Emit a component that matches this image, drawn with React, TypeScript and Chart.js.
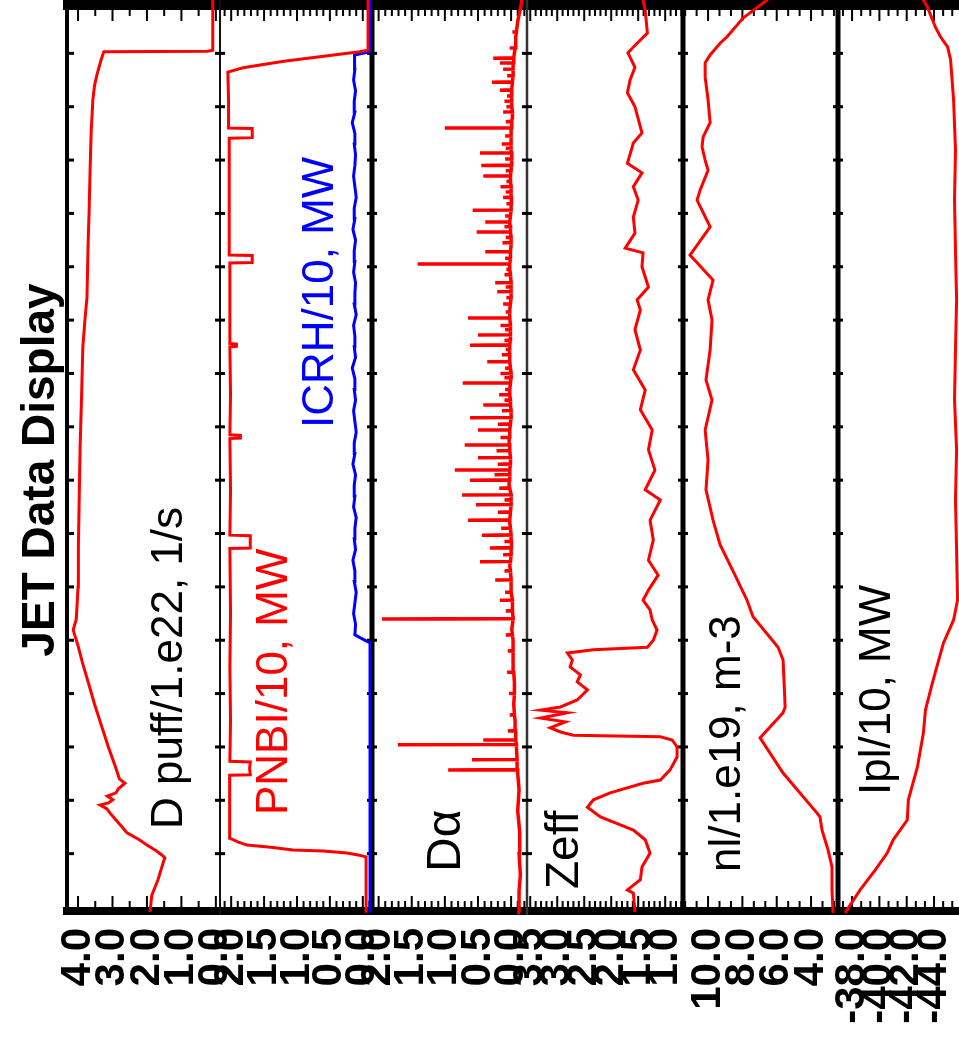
import React, { useEffect, useRef } from 'react';
import { Chart, registerables } from 'chart.js';

Chart.register(...registerables);

type Pt = [number, number];

// time axis (arbitrary units, 1 unit per tick)
const TIME_MIN = 0;
const TIME_MAX = 17;

// D puff / 1.e22, 1/s   [time, value]
const dPuff: Pt[] = [
  [-0.09, 1.91], [0.22, 1.86], [0.51, 1.68], [0.85, 1.52], [0.92, 1.48], [0.97, 1.56], [1.05, 1.72],
  [1.16, 2.0], [1.26, 2.22], [1.39, 2.58], [1.5, 2.72], [1.63, 2.9], [1.76, 3.07], [1.84, 3.16],
  [1.91, 3.36], [1.95, 3.12], [2.01, 2.99], [2.08, 3.15], [2.14, 2.9], [2.22, 2.82], [2.32, 2.64],
  [2.4, 2.8], [2.6, 2.9], [3.0, 3.12], [3.4, 3.32], [3.8, 3.52], [4.2, 3.7], [4.6, 3.88], [4.9, 4.0],
  [5.19, 4.14], [5.4, 4.05], [6.0, 4.0], [6.75, 3.99], [7.5, 3.97], [8.62, 3.94], [9.5, 3.9],
  [10.5, 3.86], [11.0, 3.8], [11.43, 3.74], [12.37, 3.71], [13.0, 3.68], [13.81, 3.65], [14.5, 3.62],
  [15.13, 3.57], [15.4, 3.52], [15.6, 3.45], [15.88, 3.33], [16.03, 3.25], [16.04, 0.25], [16.06, 0.09],
  [17.1, 0.09],
];

// PNBI / 10, MW
const pnbi: Pt[] = [
  [-0.11, -0.05], [0.5, -0.05], [0.94, -0.05], [0.97, 0.05], [1.01, 0.24], [1.05, 0.6], [1.07, 1.06],
  [1.12, 1.4], [1.16, 1.76], [1.22, 1.9], [1.29, 2.02], [1.8, 2.02], [2.2, 2.03], [2.47, 2.02],
  [2.48, 1.71], [2.6, 1.72], [2.72, 1.71], [2.73, 2.02], [3.5, 2.01], [4.5, 2.02], [5.5, 2.01],
  [6.72, 2.02], [6.73, 1.71], [6.96, 1.71], [6.97, 2.02], [7.8, 2.01], [8.78, 2.02], [8.79, 1.86],
  [8.84, 1.86], [8.85, 2.02], [9.6, 2.01], [10.5, 2.02], [10.51, 1.92], [10.55, 1.92], [10.56, 2.02],
  [11.5, 2.02], [12.07, 2.02], [12.08, 1.68], [12.21, 1.68], [12.22, 2.03], [13.0, 2.03], [13.8, 2.03],
  [14.41, 2.03], [14.42, 1.68], [14.59, 1.68], [14.6, 2.04], [15.1, 2.04], [15.65, 2.05], [15.73, 1.82],
  [15.85, 1.2], [16.03, 0.05], [16.06, -0.08], [17.1, -0.08],
];

// ICRH / 10, MW
const icrh: Pt[] = [
  [-0.11, -0.11], [4.95, -0.11], [5.02, 0.0], [5.1, 0.12], [5.3, 0.11], [5.5, 0.14], [5.7, 0.12],
  [5.9, 0.1], [6.1, 0.13], [6.3, 0.12], [6.5, 0.15], [6.7, 0.11], [6.9, 0.13], [7.1, 0.12], [7.3, 0.1],
  [7.5, 0.14], [7.7, 0.12], [7.9, 0.13], [8.1, 0.11], [8.3, 0.15], [8.5, 0.12], [8.7, 0.13], [8.9, 0.1],
  [9.1, 0.12], [9.3, 0.14], [9.5, 0.11], [9.7, 0.13], [9.9, 0.12], [10.1, 0.16], [10.3, 0.11],
  [10.5, 0.13], [10.7, 0.12], [10.9, 0.14], [11.1, 0.1], [11.3, 0.13], [11.5, 0.12], [11.7, 0.11],
  [11.9, 0.14], [12.1, 0.12], [12.3, 0.13], [12.5, 0.11], [12.7, 0.15], [12.9, 0.12], [13.1, 0.13],
  [13.3, 0.1], [13.5, 0.12], [13.7, 0.14], [13.9, 0.12], [14.1, 0.11], [14.3, 0.13], [14.5, 0.12],
  [14.7, 0.16], [14.9, 0.12], [15.1, 0.13], [15.3, 0.11], [15.5, 0.14], [15.7, 0.12], [15.9, 0.13],
  [15.97, 0.12], [16.03, -0.11], [17.1, -0.11],
];

// D-alpha baseline [time, value]
const dAlphaBase: Pt[] = [
  [-0.11, -0.13], [0.3, -0.12], [0.6, -0.14], [1.0, -0.12], [1.4, -0.13], [1.8, -0.1], [2.2, -0.12],
  [2.5, -0.1], [3.0, -0.08], [3.5, -0.06], [3.8, -0.04], [4.2, -0.05], [4.6, -0.03], [5.0, -0.03],
  [5.2, -0.01], [5.6, -0.02], [6.0, 0.0], [6.4, 0.02], [6.8, -0.01], [7.2, 0.02], [7.6, 0.0],
  [8.0, 0.03], [8.4, 0.01], [8.8, 0.03], [9.2, 0.0], [9.6, 0.02], [10.0, 0.0], [10.4, 0.03],
  [10.8, 0.01], [11.2, 0.02], [11.6, 0.0], [12.0, 0.02], [12.4, 0.0], [12.8, 0.02], [13.2, -0.01],
  [13.6, 0.01], [14.0, -0.01], [14.4, 0.0], [14.8, -0.02], [15.2, -0.01], [15.6, -0.03], [16.0, -0.05],
  [16.3, -0.07], [16.6, -0.1], [16.9, -0.15], [17.09, -0.17],
];
// D-alpha spikes [time, base, peak]
const dAlphaSpikes: [number, number, number][] = [
  [2.57, -0.1, 0.95], [2.76, -0.09, 0.59], [3.04, -0.08, 1.71], [3.13, -0.07, 0.42], [3.3, -0.07, 0.05],
  [3.6, -0.05, 0.02], [4.0, -0.05, 0.03], [4.4, -0.04, 0.06], [4.8, -0.03, 0.05], [5.1, -0.02, 0.08],
  [5.4, -0.03, 1.95], [5.55, -0.02, 0.08], [5.75, -0.02, 0.17], [5.9, 0.0, 0.09], [6.13, 0.0, 0.24],
  [6.3, 0.01, 0.1], [6.47, 0.01, 0.47], [6.6, 0.0, 0.12], [6.73, 0.0, 0.32], [6.85, 0.0, 0.1],
  [6.97, 0.0, 0.44], [7.1, 0.01, 0.15], [7.25, 0.02, 0.65], [7.4, 0.01, 0.2], [7.54, 0.0, 0.53],
  [7.63, 0.0, 0.1], [7.72, 0.0, 0.74], [7.85, 0.02, 0.18], [8.0, 0.03, 0.62], [8.1, 0.02, 0.25],
  [8.19, 0.02, 0.85], [8.3, 0.01, 0.2], [8.42, 0.01, 0.5], [8.55, 0.02, 0.22], [8.66, 0.02, 0.7],
  [8.8, 0.03, 0.16], [8.94, 0.02, 0.5], [9.05, 0.01, 0.2], [9.17, 0.0, 0.62], [9.3, 0.0, 0.14],
  [9.41, 0.01, 0.42], [9.5, 0.01, 0.1], [9.6, 0.02, 0.18], [9.7, 0.02, 0.09], [9.82, 0.01, 0.73],
  [9.92, 0.0, 0.1], [10.0, 0.0, 0.16], [10.1, 0.01, 0.09], [10.22, 0.02, 0.36], [10.35, 0.02, 0.14],
  [10.45, 0.02, 0.08], [10.53, 0.02, 0.62], [10.62, 0.01, 0.1], [10.72, 0.01, 0.5], [10.82, 0.01, 0.09],
  [10.9, 0.01, 0.16], [11.04, 0.02, 0.65], [11.15, 0.02, 0.08], [11.3, 0.01, 0.12], [11.42, 0.0, 0.07],
  [11.53, 0.0, 0.21], [11.62, 0.0, 0.08], [11.7, 0.0, 0.24], [11.85, 0.01, 0.1], [11.95, 0.02, 0.07],
  [12.05, 0.02, 1.41], [12.16, 0.01, 0.09], [12.28, 0.01, 0.39], [12.45, 0.0, 0.13], [12.55, 0.0, 0.08],
  [12.65, 0.01, 0.52], [12.75, 0.01, 0.1], [12.84, 0.02, 0.39], [12.95, 0.01, 0.09], [13.06, 0.0, 0.58],
  [13.18, 0.0, 0.07], [13.3, 0.0, 0.12], [13.4, 0.0, 0.08], [13.5, 0.0, 0.16], [13.6, 0.01, 0.07],
  [13.7, 0.01, 0.42], [13.8, 0.0, 0.08], [13.9, 0.0, 0.45], [14.02, -0.01, 0.09], [14.13, -0.01, 0.47],
  [14.22, 0.0, 0.08], [14.3, 0.0, 0.14], [14.45, 0.0, 0.09], [14.6, 0.0, 1.0], [14.72, -0.01, 0.08],
  [14.9, -0.02, 0.12], [15.0, -0.01, 0.07], [15.1, -0.01, 0.1], [15.2, -0.01, 0.06], [15.31, -0.01, 0.17],
  [15.46, -0.02, 0.29], [15.58, -0.03, 0.06], [15.7, -0.03, 0.12], [15.82, -0.03, 0.17], [15.91, -0.04, 0.27],
  [16.1, -0.06, 0.02], [16.4, -0.08, -0.02],
];

// Zeff
const zeff: Pt[] = [
  [-0.09, 1.56], [0.26, 1.59], [0.32, 1.7], [0.51, 1.46], [0.75, 1.43], [1.01, 1.28], [1.26, 1.37],
  [1.44, 1.59], [1.54, 1.83], [1.69, 2.2], [1.87, 2.44], [2.01, 2.33], [2.14, 2.02], [2.32, 1.41],
  [2.38, 1.09], [2.57, 0.91], [2.81, 0.78], [3.0, 0.78], [3.13, 0.87], [3.19, 1.09], [3.22, 2.7],
  [3.28, 2.94], [3.36, 3.13], [3.47, 2.85], [3.54, 3.31], [3.64, 2.81], [3.69, 3.31], [3.75, 2.94],
  [3.88, 2.63], [4.07, 2.44], [4.22, 2.63], [4.35, 2.57], [4.5, 2.76], [4.63, 2.72], [4.76, 2.81],
  [4.82, 2.33], [4.87, 1.33], [5.0, 1.22], [5.19, 1.15], [5.38, 1.24], [5.57, 1.28], [5.75, 1.41],
  [5.94, 1.31], [6.22, 1.13], [6.5, 1.31], [6.88, 1.22], [7.25, 1.28], [7.63, 1.09], [7.82, 1.37],
  [8.19, 1.19], [8.57, 1.31], [8.94, 1.24], [9.32, 1.46], [9.69, 1.37], [10.07, 1.59], [10.44, 1.46],
  [10.82, 1.56], [11.19, 1.46], [11.38, 1.52], [11.62, 1.31], [12.0, 1.43], [12.26, 1.41], [12.35, 1.74],
  [12.63, 1.56], [12.93, 1.59], [13.25, 1.5], [13.5, 1.59], [13.76, 1.43], [13.94, 1.7], [14.32, 1.59],
  [14.51, 1.43], [15.0, 1.56], [15.26, 1.7], [15.5, 1.65], [15.74, 1.56], [16.01, 1.69], [16.19, 1.52],
  [16.38, 1.33], [16.81, 1.37], [17.0, 1.41], [17.09, 1.41],
];

// nl / 1.e19, m-3
const nl: Pt[] = [
  [-0.11, 2.72], [0.32, 2.78], [0.75, 2.78], [1.07, 3.01], [1.44, 3.36], [1.69, 3.48], [1.76, 3.65],
  [2.51, 5.63], [3.17, 6.97], [3.64, 5.63], [3.75, 5.51], [4.2, 5.57], [4.63, 5.63], [4.87, 5.92],
  [5.44, 7.38], [5.75, 7.73], [6.22, 8.43], [6.79, 9.3], [7.25, 9.71], [7.82, 10.12], [8.38, 10.0],
  [8.94, 10.17], [9.5, 9.77], [9.88, 10.12], [10.44, 9.88], [11.0, 9.77], [11.38, 10.0], [11.75, 9.71],
  [12.22, 11.05], [12.75, 9.88], [13.25, 10.64], [13.44, 10.46], [13.81, 10.0], [14.0, 10.17],
  [14.25, 10.35], [14.43, 10.29], [14.7, 9.88], [15.13, 10.0], [15.56, 10.17], [15.82, 10.17],
  [15.97, 9.88], [16.19, 9.3], [16.31, 8.89], [16.66, 7.96], [17.0, 6.56], [17.09, 6.39],
];

// Ipl / 10, MW
const ipl: Pt[] = [
  [-0.11, -37.49], [0.32, -38.59], [0.69, -39.69], [1.01, -40.57], [1.26, -41.01], [1.63, -42.04],
  [2.01, -42.12], [2.62, -42.78], [3.26, -43.22], [3.69, -43.37], [4.2, -43.88], [4.95, -44.69],
  [5.38, -45.43], [5.75, -45.72], [6.69, -45.65], [7.63, -45.57], [8.57, -45.65], [9.5, -45.5],
  [10.44, -45.57], [11.38, -45.65], [12.31, -45.57], [13.25, -45.5], [14.19, -45.57], [15.13, -45.43],
  [15.88, -45.21], [16.12, -44.99], [16.31, -44.47], [16.49, -44.1], [16.87, -43.51], [17.0, -43.22],
  [17.09, -43.07],
];

// panel value axes (left to right in the picture)
const panelIds = ['p1', 'p2', 'p3', 'p4', 'p5', 'p6'];
const panelMin = [-0.12, -0.14, -0.24, 0.67, 2.43, -45.9];
const panelMax = [4.32, 2.17, 2.1, 3.56, 11.46, -36.97];
const panelStep = [1, 0.5, 0.5, 0.5, 2, 2];
const panelMinor = [0.5, 0.1, 0.1, 0.1, 2 / 3, 2 / 3];
const panelWeight = [153, 152, 155, 156, 155, 122];

const panelLabels = ['D puff/1.e22, 1/s', 'PNBI/10, MW', 'ICRH/10, MW', 'D\u03b1', 'Zeff', 'nl/1.e19, m-3', 'Ipl/10, MW'];
const panelLabelColors = ['#000', '#ff0000', '#0000ff', '#000', '#000', '#000', '#000'];
const titleText = 'JET Data Display';

const FONT = "'Liberation Sans', Arial, Helvetica, sans-serif";
// label placement: [baseline x, start y, font size]
const labelPlace: [number, number, number][] = [
  [182, 829, 44], [287, 815, 44], [333, 428, 44], [460, 872, 48], [578, 889, 46], [740, 872, 44], [890, 795, 44],
];
const sepWidths = [4, 2, 5, 2.5, 5, 5, 0];
const sepColors = ['#000', '#111', '#000', '#333', '#000', '#000', '#000'];

function toXY(pts: Pt[]) {
  return pts.map(([t, v]) => ({ x: v, y: t }));
}

function buildDAlpha() {
  const rows: { t: number; pts: Pt[] }[] = [];
  dAlphaBase.forEach(([t, v]) => rows.push({ t, pts: [[t, v]] }));
  dAlphaSpikes.forEach(([t, b, p]) => rows.push({ t, pts: [[t, b], [t, p], [t + 0.006, b]] }));
  rows.sort((a, b) => a.t - b.t);
  const out: Pt[] = [];
  rows.forEach((r) => r.pts.forEach((p) => out.push(p)));
  return out;
}

const framePlugin = {
  id: 'jetFrame',
  beforeDatasetsDraw(chart: any) {
    const ctx = chart.ctx as CanvasRenderingContext2D;
    const area = chart.chartArea;
    const yS = chart.scales.y;
    ctx.save();
    ctx.fillStyle = '#000';
    const L = area.left - 4;
    const R = chart.width;
    ctx.fillRect(L, area.bottom, R - L, 8);
    ctx.fillRect(L, area.top, R - L, 10);
    panelIds.forEach((id, i) => {
      const s = chart.scales[id];
      const minor = panelMinor[i];
      const major = panelStep[i];
      const k0 = Math.ceil(s.min / minor - 1e-6);
      const k1 = Math.floor(s.max / minor + 1e-6);
      for (let k = k0; k <= k1; k++) {
        const v = k * minor;
        const isMajor = Math.abs(v / major - Math.round(v / major)) < 1e-6;
        const px = s.getPixelForValue(v);
        const len = isMajor ? 11 : 6;
        ctx.fillRect(px - 1, area.bottom - len, 2, len);
        ctx.fillRect(px - 1, area.top + 10, 2, len);
      }
    });
    const xs = panelIds.map((id) => chart.scales[id].left).concat([area.right]);
    xs.forEach((x: number, j: number) => {
      const w = sepWidths[j];
      if (w <= 0) return;
      ctx.fillStyle = sepColors[j];
      ctx.fillRect(x - w / 2, area.top, w, area.bottom + 8 - area.top);
      ctx.fillStyle = '#000';
      for (let t = Math.ceil(yS.min) + 1; t < yS.max; t++) {
        const py = yS.getPixelForValue(t);
        if (j === 0) ctx.fillRect(x, py - 1.5, 7, 3);
        else ctx.fillRect(x - 5, py - 1.5, 10, 3);
      }
    });
    ctx.restore();
  },
  afterDatasetsDraw(chart: any) {
    const ctx = chart.ctx as CanvasRenderingContext2D;
    ctx.save();
    panelLabels.forEach((txt, i) => {
      const [x, y, size] = labelPlace[i];
      ctx.save();
      ctx.translate(x, y);
      ctx.rotate(-Math.PI / 2);
      ctx.font = `${size}px ${FONT}`;
      ctx.fillStyle = panelLabelColors[i];
      ctx.textAlign = 'left';
      ctx.textBaseline = 'alphabetic';
      ctx.fillText(txt, 0, 0);
      ctx.restore();
    });
    ctx.translate(54, 470);
    ctx.rotate(-Math.PI / 2);
    ctx.font = `bold 46px ${FONT}`;
    ctx.fillStyle = '#000';
    ctx.textAlign = 'center';
    ctx.textBaseline = 'alphabetic';
    ctx.fillText(titleText, 0, 0);
    ctx.restore();
  },
};

export default function App() {
  const ref = useRef<HTMLCanvasElement | null>(null);
  useEffect(() => {
    if (!ref.current) return;
    const scales: any = {
      y: { type: 'linear', min: TIME_MIN, max: TIME_MAX, display: false },
    };
    panelIds.forEach((id, i) => {
      scales[id] = {
        type: 'linear',
        position: 'bottom',
        stack: 'panels',
        stackWeight: panelWeight[i],
        reverse: true,
        min: panelMin[i],
        max: panelMax[i],
        grid: { display: false, drawTicks: false },
        border: { display: false },
        ticks: {
          stepSize: panelStep[i],
          includeBounds: false,
          autoSkip: false,
          minRotation: 90,
          maxRotation: 90,
          padding: 21,
          color: '#000',
          font: { family: FONT, size: 42, weight: 'bold' },
          callback: (v: any) => Number(v).toFixed(1),
        },
        afterFit: (s: any) => {
          s.height = 134;
        },
      };
    });
    const ds = (label: string, pts: Pt[], axis: string, color: string, width = 3) => ({
      label,
      data: toXY(pts),
      xAxisID: axis,
      yAxisID: 'y',
      borderColor: color,
      backgroundColor: color,
      borderWidth: width,
      pointRadius: 0,
      showLine: true,
      fill: false,
      tension: 0,
      clip: false,
    });
    const chart = new Chart(ref.current, {
      type: 'scatter',
      data: {
        datasets: [
          ds('D puff', dPuff, 'p1', '#ff0000'),
          ds('PNBI', pnbi, 'p2', '#ff0000'),
          ds('ICRH', icrh, 'p2', '#0000ff'),
          ds('Dalpha', buildDAlpha(), 'p3', '#ff0000', 3.5),
          ds('Zeff', zeff, 'p4', '#ff0000'),
          ds('nl', nl, 'p5', '#ff0000'),
          ds('Ipl', ipl, 'p6', '#ff0000'),
        ],
      },
      options: {
        responsive: false,
        animation: false,
        devicePixelRatio: 1,
        events: [],
        layout: { padding: { left: 67, right: 140, top: 0, bottom: 0 } },
        scales,
        plugins: { legend: { display: false }, tooltip: { enabled: false }, title: { display: false } },
      } as any,
      plugins: [framePlugin],
    });
    return () => chart.destroy();
  }, []);
  return (
    <div style={{ position: 'fixed', left: 0, top: 0, width: 959, height: 1041, overflow: 'hidden', background: '#fff' }}>
      <canvas ref={ref} width={1100} height={1041} style={{ display: 'block' }} />
    </div>
  );
}
